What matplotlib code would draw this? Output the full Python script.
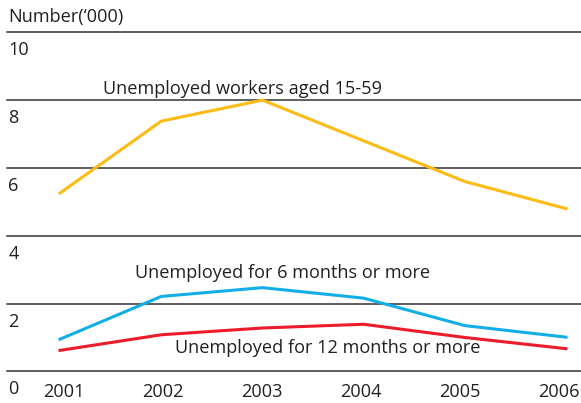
import matplotlib.pyplot as plt
import matplotlib.transforms as mtransforms

plt.rcParams['font.family'] = ['Open Sans', 'DejaVu Sans']

years = [2001, 2002, 2003, 2004, 2005, 2006]
workers_15_59 = [5.26, 7.38, 8.0, 6.8, 5.6, 4.8]
six_months = [0.95, 2.21, 2.47, 2.16, 1.35, 1.01]
twelve_months = [0.62, 1.08, 1.28, 1.39, 1.0, 0.67]
y_ticks = [0, 2, 4, 6, 8, 10]

txt = '#231f20'
fs = 13.1

fig = plt.figure(figsize=(5.81, 4.03), dpi=100)
ax = fig.add_axes([7 / 581, 31.6 / 403, 574 / 581, 339.1 / 403])
ax.set_xlim(2000.476, 2006.148)
ax.set_ylim(0, 10)
ax.axis('off')

# horizontal rules with the value written under each one
trans = mtransforms.blended_transform_factory(ax.transAxes, ax.transData)
for v in y_ticks:
    ax.plot([0, 1], [v, v], transform=trans, color='#333333', lw=1.1,
            clip_on=False, zorder=1)
    ax.text(0.002, v - 0.53, str(v), transform=trans, ha='left', va='center',
            fontsize=fs, color=txt)
ax.text(0.002, 10.44, 'Number(\u2018000)', transform=trans, ha='left',
        va='center', fontsize=fs, color=txt)

# year labels sit a touch left of the points, as in the original
for i, y in enumerate(years):
    ax.text(y + 0.04 - 0.022 * i, -0.61, str(y), ha='center', va='center',
            fontsize=fs, color=txt, clip_on=False)

ax.plot(years, workers_15_59, color='#fdbb13', lw=2.2, clip_on=False, zorder=3)
ax.plot(years, six_months, color='#12aee8', lw=2.2, clip_on=False, zorder=3)
ax.plot(years, twelve_months, color='#ec1c2a', lw=2.2, clip_on=False, zorder=3)

ax.text(2001.425, 8.34, 'Unemployed workers aged 15-59', ha='left',
        va='center', fontsize=fs, color=txt)
ax.text(2001.74, 2.91, 'Unemployed for 6 months or more', ha='left',
        va='center', fontsize=fs, color=txt)
ax.text(2002.14, 0.69, 'Unemployed for 12 months or more', ha='left',
        va='center', fontsize=fs, color=txt)

fig.savefig('out.png', dpi=100)
